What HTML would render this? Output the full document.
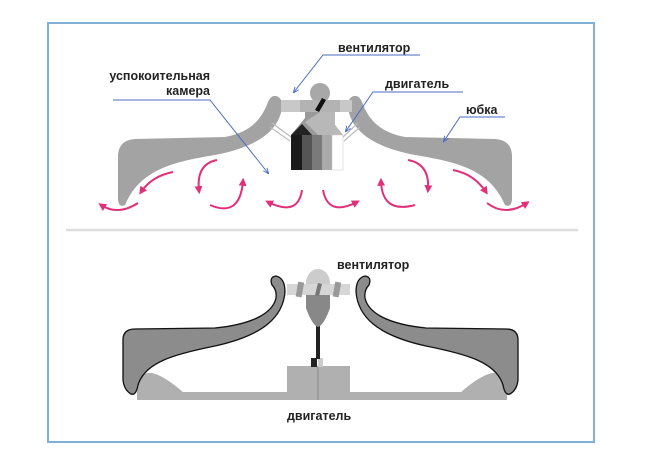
<!DOCTYPE html>
<html><head><meta charset="utf-8"><style>
html,body{margin:0;padding:0;background:#fff;}
svg{display:block;}
text{font-family:"Liberation Sans",sans-serif;font-weight:bold;font-size:12.5px;fill:#222;}
</style></head><body>
<svg width="650" height="470" viewBox="0 0 650 470" xmlns="http://www.w3.org/2000/svg">
<defs>
<marker id="ah" viewBox="0 0 10 10" refX="6" refY="5" markerWidth="4" markerHeight="4" orient="auto"><path d="M0,0 L10,5 L0,10 z" fill="#e0307a"/></marker>
<marker id="bh" viewBox="0 0 10 10" refX="8" refY="5" markerWidth="6" markerHeight="6" orient="auto"><path d="M0,1 L10,5 L0,9" fill="none" stroke="#4a6cc0" stroke-width="1.5"/></marker>
</defs>
<rect x="48" y="23" width="546" height="419" fill="none" stroke="#7fb0d8" stroke-width="2"/>
<line x1="66" y1="230" x2="578" y2="230" stroke="#ddd" stroke-width="2.5"/>

<!-- upper skirts -->
<g id="sk" fill="#a3a3a3">
<path d="M276,96 Q283,98 282,108 C279,128 262,146 215,155 C172,162 140,170 125,205 Q119,208 118,200 L118,155 Q119,140 135,139 L225,137 C252,132 262,118 268,102 Q271,95 276,96 Z"/>
</g>
<use href="#sk" transform="translate(630,0) scale(-1,1)"/>
<!-- struts -->
<path d="M272,123 L291,137 M270,127 L290,141" stroke="#bbb" stroke-width="1.2" fill="none"/>
<path d="M358,123 L343,137 M360,127 L344,141" stroke="#bbb" stroke-width="1.2" fill="none"/>
<!-- upper fan/motor -->
<circle cx="320" cy="93" r="10" fill="#a8a8a8"/>
<path d="M305,112 L335,112 L335,125 L343,135 L291,135 L305,118 Z" fill="#999"/>
<path d="M320,112 L335,112 L335,125 L343,135 L318,135 L305,122 Z" fill="#b8b8b8"/>
<rect x="281" y="100" width="71" height="12" fill="#c8c8c8"/>
<rect x="300" y="100" width="40" height="12" fill="#b3b3b3"/>
<path d="M322,98 L326,100 L319,112 L315,110 Z" fill="#111"/>
<path d="M291,135 L302,124 L312,135 Z" fill="#222"/>
<rect x="291" y="135" width="11" height="35" fill="#1a1a1a"/>
<rect x="302" y="135" width="10" height="35" fill="#555"/>
<rect x="312" y="135" width="10" height="35" fill="#7a7a7a"/>
<rect x="322" y="135" width="10" height="35" fill="#aaa"/>
<rect x="332" y="135" width="11" height="35" fill="#fff" stroke="#ccc" stroke-width="0.5"/>

<!-- arrows -->
<g fill="none" stroke="#e0307a" stroke-width="2" marker-end="url(#ah)">
<path d="M173,172 Q152,176 141,192"/>
<path d="M138,203 Q118,216 101,205"/>
<path d="M217,160 Q196,164 199,191"/>
<path d="M210,205 Q240,218 243,181"/>
<path d="M302,190 Q298,217 268,202"/>
<path d="M323,190 Q328,217 357,202"/>
<path d="M415,205 Q382,214 381,181"/>
<path d="M408,160 Q430,164 428,190"/>
<path d="M453,170 Q474,174 486,192"/>
<path d="M487,203 Q505,217 527,203"/>
</g>

<!-- labels upper -->
<g stroke="#4a6cc0" stroke-width="1" fill="none">
<path d="M420,55 L323,55 L294,92" marker-end="url(#bh)"/>
<path d="M113,100 L210,100 L268,173" marker-end="url(#bh)"/>
<path d="M463,92 L373,92 L346,131" marker-end="url(#bh)"/>
<path d="M505,117 L460,117 L444,141" marker-end="url(#bh)"/>
</g>
<text x="338" y="52">вентилятор</text>
<text x="210" y="80" text-anchor="end">успокоительная</text>
<text x="210" y="95" text-anchor="end">камера</text>
<text x="385" y="88">двигатель</text>
<text x="466" y="114">юбка</text>

<!-- lower -->
<path d="M137,393 L137,385 Q139,372 152,373 Q165,376 184,393 Z M507,393 L507,385 Q505,372 492,373 Q479,376 460,393 Z" fill="#b0b0b0"/>
<rect x="137" y="392" width="370" height="8" fill="#b0b0b0"/>
<g id="sk2" fill="#8c8c8c" stroke="#111" stroke-width="1.3">
<path d="M276,276 Q285,278 285,292 C283,316 265,335 215,346 C175,354 145,362 138,385 Q136,396 131,394 Q124,390 123,380 L123,340 Q123,329 135,329 L215,328 C255,324 273,312 276,298 Q277,290 272,285 Q269,277 276,276 Z"/>
</g>
<use href="#sk2" transform="translate(641,0) scale(-1,1)"/>
<rect x="287" y="366" width="63" height="29" fill="#b0b0b0"/>
<line x1="318" y1="366" x2="318" y2="400" stroke="#888" stroke-width="1"/>
<rect x="311" y="358" width="6" height="9" fill="#222"/>
<rect x="318" y="358" width="5" height="9" fill="#ccc"/>
<rect x="316" y="322" width="4" height="37" fill="#222"/>
<ellipse cx="318" cy="283" rx="12" ry="14" fill="#ccc"/>
<path d="M306,293 L330,293 L330,308 Q324,325 318,327 Q312,325 306,308 Z" fill="#888"/>
<rect x="287" y="284" width="63" height="11" fill="#d6d6d6"/>
<rect x="297" y="282" width="6" height="15" fill="#999" transform="rotate(10 300 289)"/>
<rect x="334" y="282" width="6" height="15" fill="#999" transform="rotate(10 337 289)"/>
<path d="M318,283 L322,284 L319,296 L315,295 Z" fill="#777"/>
<text x="337" y="269">вентилятор</text>
<text x="287" y="420">двигатель</text>
</svg>
</body></html>
